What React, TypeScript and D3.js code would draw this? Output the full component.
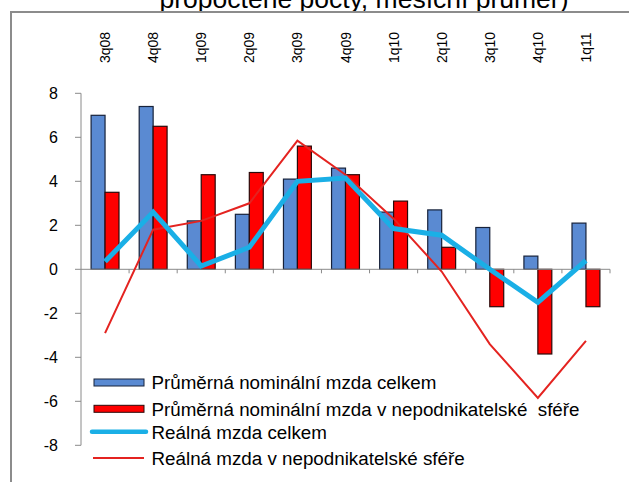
import * as d3 from 'd3'
import React from 'react'

// quarters shown on the (top) category axis
const categories = ['3q08', '4q08', '1q09', '2q09', '3q09', '4q09', '1q10', '2q10', '3q10', '4q10', '1q11']

// y/y growth, %
const nominalTotal = [7.0, 7.4, 2.2, 2.5, 4.1, 4.6, 2.6, 2.7, 1.9, 0.6, 2.1]
const nominalPublic = [3.5, 6.5, 4.3, 4.4, 5.6, 4.3, 3.1, 1.0, -1.7, -3.85, -1.7]
const realTotal = [0.35, 2.6, 0.15, 1.0, 4.0, 4.15, 1.85, 1.55, 0.0, -1.5, 0.4]
const realPublic = [-2.9, 1.8, 2.2, 3.0, 5.85, 4.3, 2.3, -0.1, -3.4, -5.85, -3.25]

const yTicks = [-8, -6, -4, -2, 0, 2, 4, 6, 8]

const legendItems = [
  'Průměrná nominální mzda celkem',
  'Průměrná nominální mzda v nepodnikatelské  sféře',
  'Reálná mzda celkem',
  'Reálná mzda v nepodnikatelské sféře',
]

const W = 629
const H = 482
const font = 'Liberation Sans, Arial, sans-serif'
const BLUE = '#5a8ad2'
const RED = '#ff0000'
const CYAN = '#1aafe6'
const RED_LINE = '#e42320'
const AXIS = '#8a8a8a'

export default function App() {
  const x = d3.scaleBand<string>()
    .domain(categories)
    .range([81, 610])
    .paddingInner(0.42)
    .paddingOuter(0.21)

  const sub = d3.scaleBand<string>()
    .domain(['total', 'public'])
    .range([0, x.bandwidth()])

  const y = d3.scaleLinear().domain([-8, 8]).range([445.3, 93.3])

  const step = x.step()
  const center = (c: string) => (x(c) as number) + x.bandwidth() / 2
  const boundaries = d3.range(categories.length + 1).map(i => 81 + i * step)

  const line = d3.line<number>()
    .x((d, i) => center(categories[i]))
    .y(d => y(d))

  const bar = (v: number) => ({ y: y(Math.max(0, v)), h: Math.abs(y(v) - y(0)) })

  const legendRows = [382.5, 408.8, 431.7, 458]

  return (
    <svg width={W} height={H} style={{ position: 'absolute', left: 0, top: 0, background: '#fff' }}>
      {/* title, cut by the top edge as in the source image */}
      <text x={364} y={8} textAnchor="middle" fontFamily={font} fontSize={26.5} fill="#000">
        propočtené počty, měsíční průměr)
      </text>

      {/* outer frame */}
      <rect x={11} y={12} width={W + 20} height={H + 20} fill="none" stroke="#8c8c8c" strokeWidth={2} />

      {/* y axis */}
      <line x1={81} x2={81} y1={y(8)} y2={y(-8)} stroke={AXIS} strokeWidth={1} />
      {yTicks.map(t => (
        <g key={t}>
          <line x1={75} x2={81} y1={y(t)} y2={y(t)} stroke={AXIS} />
          <text x={58} y={y(t)} dy="0.36em" textAnchor="end" fontFamily={font} fontSize={16} fill="#000">
            {t}
          </text>
        </g>
      ))}

      {/* category labels, vertical */}
      {categories.map(c => (
        <text
          key={c}
          transform={`translate(${center(c)},47.5) rotate(-90)`}
          dy="0.36em"
          textAnchor="middle"
          fontFamily={font}
          fontSize={14}
          fill="#000"
        >
          {c}
        </text>
      ))}

      {/* bars */}
      {categories.map((c, i) => {
        const b1 = bar(nominalTotal[i])
        const b2 = bar(nominalPublic[i])
        return (
          <g key={c}>
            <rect x={(x(c) as number) + (sub('total') as number)} y={b1.y} width={sub.bandwidth()} height={b1.h}
              fill={BLUE} stroke="#17223a" strokeWidth={1.2} />
            <rect x={(x(c) as number) + (sub('public') as number)} y={b2.y} width={sub.bandwidth()} height={b2.h}
              fill={RED} stroke="#2a0a0a" strokeWidth={1.2} />
          </g>
        )
      })}

      {/* x axis at zero */}
      <line x1={81} x2={610} y1={y(0)} y2={y(0)} stroke={AXIS} strokeWidth={1} />
      {boundaries.slice(1).map((bx, i) => (
        <line key={i} x1={bx} x2={bx} y1={y(0)} y2={y(0) + 4} stroke={AXIS} />
      ))}

      {/* lines */}
      <path d={line(realPublic) || ''} fill="none" stroke={RED_LINE} strokeWidth={2} strokeLinejoin="miter" />
      <path d={line(realTotal) || ''} fill="none" stroke={CYAN} strokeWidth={5} strokeLinejoin="miter" />

      {/* legend */}
      <rect x={94} y={legendRows[0] - 3.5} width={50} height={7} fill={BLUE} stroke="#17223a" />
      <rect x={94} y={legendRows[1] - 3.5} width={50} height={7} fill={RED} stroke="#2a0a0a" />
      <line x1={92} x2={146} y1={legendRows[2]} y2={legendRows[2]} stroke={CYAN} strokeWidth={4.5} strokeLinecap="round" />
      <line x1={93} x2={144} y1={legendRows[3]} y2={legendRows[3]} stroke={RED_LINE} strokeWidth={2} />
      {legendItems.map((t, i) => (
        <text key={t} x={151.5} y={legendRows[i] + 6.8} fontFamily={font} fontSize={18.8} fill="#000"
          style={{ whiteSpace: 'pre' }}>
          {t}
        </text>
      ))}
    </svg>
  )
}
